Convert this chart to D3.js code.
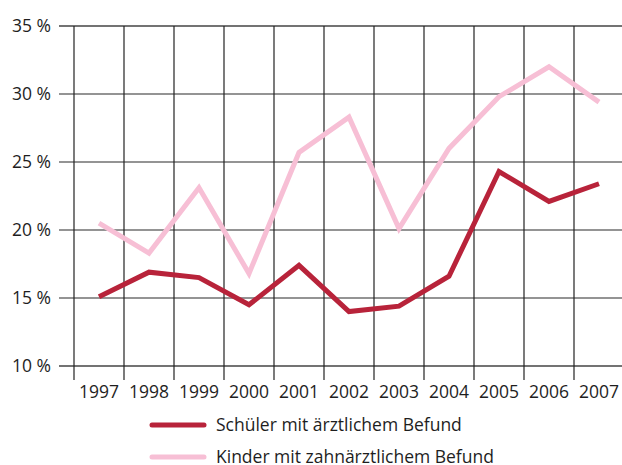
<!DOCTYPE html>
<html>
<head>
<meta charset="utf-8">
<script src="https://cdn.jsdelivr.net/npm/d3@7"></script>
<style>
  body { margin: 0; background: #fff; }
  svg { display: block; }
  text { font-family: "Open Sans", sans-serif; fill: #1e1e1e; }
</style>
</head>
<body>
<svg width="622" height="465"></svg>
<script>
// Daten
const years = [1997, 1998, 1999, 2000, 2001, 2002, 2003, 2004, 2005, 2006, 2007];
const schueler = [15.1, 16.9, 16.5, 14.5, 17.4, 14.0, 14.4, 16.6, 24.3, 22.1, 23.4];
const kinder = [20.5, 18.3, 23.1, 16.8, 25.7, 28.3, 20.1, 26.0, 29.8, 32.0, 29.4];
const yTicks = [10, 15, 20, 25, 30, 35];
const seriesNames = ['Schüler mit ärztlichem Befund', 'Kinder mit zahnärztlichem Befund'];
const colors = ['#b8233a', '#f7bfd5'];

const svg = d3.select('svg');

const x = d3.scaleBand().domain(years).range([74, 624]);
const y = d3.scaleLinear().domain([10, 35]).range([366, 26]);

// horizontale Gitterlinien
svg.append('g')
	.selectAll('line')
	.data(yTicks)
	.join('line')
	.attr('x1', 59)
	.attr('x2', 622)
	.attr('y1', (d) => y(d))
	.attr('y2', (d) => y(d))
	.attr('stroke', (d) => (d === 35 || d === 10 ? '#444' : '#707070'))
	.attr('stroke-width', 1.5);

// vertikale Linien
svg.append('g')
	.selectAll('line')
	.data(years)
	.join('line')
	.attr('x1', (d) => x(d))
	.attr('x2', (d) => x(d))
	.attr('y1', y(35))
	.attr('y2', 380)
	.attr('stroke', '#222')
	.attr('stroke-width', 1.2);

// y Beschriftung
svg.append('g')
	.selectAll('text')
	.data(yTicks)
	.join('text')
	.attr('x', 51)
	.attr('y', (d) => y(d) + 6)
	.attr('text-anchor', 'end')
	.style('font-size', '17.5px')
	.text((d) => d + ' %');

// x Beschriftung
svg.append('g')
	.selectAll('text')
	.data(years)
	.join('text')
	.attr('x', (d) => x(d) + x.bandwidth() / 2)
	.attr('y', 398)
	.attr('text-anchor', 'middle')
	.style('font-size', '17.5px')
	.text((d) => d);

const line = d3
	.line()
	.x((d, i) => x(years[i]) + x.bandwidth() / 2)
	.y((d) => y(d));

[kinder, schueler].forEach((s, k) => {
	svg.append('path')
		.attr('d', line(s))
		.attr('fill', 'none')
		.attr('stroke', colors[1 - k])
		.attr('stroke-width', 5)
		.attr('stroke-linejoin', 'miter');
});

// Legende
const lg = svg.append('g');
seriesNames.forEach((name, i) => {
	const ly = 425 + i * 32;
	lg.append('line')
		.attr('x1', 152).attr('x2', 204)
		.attr('y1', ly).attr('y2', ly)
		.attr('stroke', colors[i])
		.attr('stroke-width', 5)
		.attr('stroke-linecap', 'round');
	lg.append('text')
		.attr('x', 216)
		.attr('y', ly + 6)
		.style('font-size', '17.5px')
		.text(name);
});
</script>
</body>
</html>
